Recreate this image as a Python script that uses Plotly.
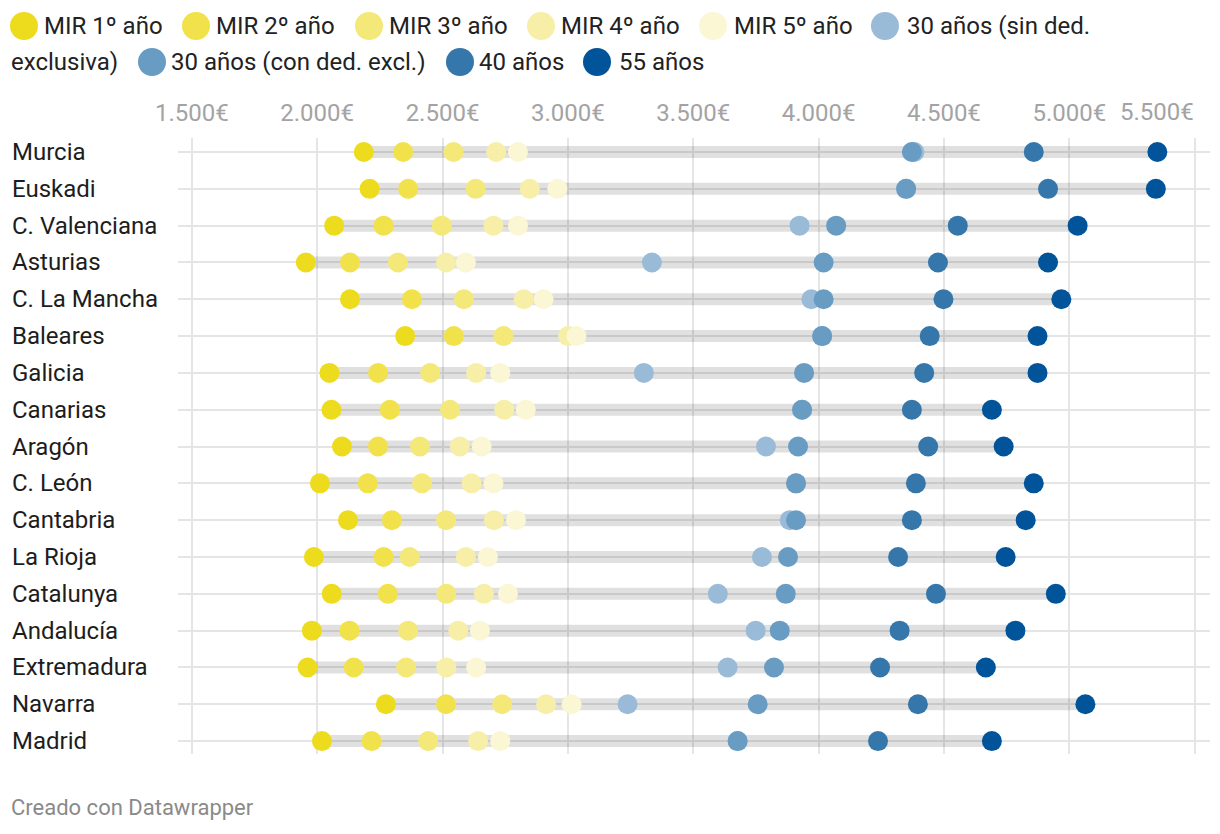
import plotly.graph_objects as go

# ---------------- data ----------------
regions = ["Murcia", "Euskadi", "C. Valenciana", "Asturias", "C. La Mancha", "Baleares",
           "Galicia", "Canarias", "Aragón", "C. León", "Cantabria", "La Rioja",
           "Catalunya", "Andalucía", "Extremadura", "Navarra", "Madrid"]

mir1 = [2186, 2209, 2068, 1955, 2131, 2351, 2049, 2057, 2099, 2011, 2123, 1987, 2058, 1979, 1962, 2274, 2019]
mir2 = [2343, 2363, 2265, 2131, 2378, 2545, 2243, 2290, 2243, 2202, 2298, 2265, 2282, 2129, 2146, 2514, 2217]
mir3 = [2544, 2632, 2497, 2322, 2585, 2743, 2451, 2530, 2410, 2418, 2514, 2369, 2515, 2363, 2355, 2738, 2443]
mir4 = [2714, 2848, 2703, 2514, 2824, 3001, 2634, 2746, 2569, 2616, 2705, 2593, 2665, 2563, 2515, 2913, 2642]
mir5 = [2801, 2958, 2801, 2593, 2903, 3034, 2730, 2832, 2656, 2703, 2793, 2681, 2761, 2649, 2634, 3015, 2730]
sin30 = [4382, 4349, 3924, 3335, 3971, 4014, 3303, 3934, 3790, 3910, 3885, 3774, 3598, 3749, 3637, 3238, 3677]
con30 = [4372, 4349, 4070, 4020, 4020, 4014, 3942, 3934, 3918, 3910, 3910, 3878, 3869, 3845, 3822, 3757, 3677]
a40 = [4858, 4915, 4555, 4476, 4498, 4443, 4421, 4372, 4437, 4388, 4372, 4317, 4468, 4323, 4245, 4396, 4237]
a55 = [5351, 5345, 5033, 4915, 4968, 4873, 4873, 4691, 4738, 4858, 4826, 4746, 4946, 4785, 4667, 5064, 4691]

series_names = ["MIR 1º año", "MIR 2º año", "MIR 3º año", "MIR 4º año", "MIR 5º año",
                "30 años (sin ded. exclusiva)", "30 años (con ded. excl.)", "40 años", "55 años"]
series_values = [mir1, mir2, mir3, mir4, mir5, sin30, con30, a40, a55]
series_colors = ["#eddb1d", "#f1e24b", "#f4e879", "#f7efa7", "#fbf6d3",
                 "#99bbd7", "#689cc2", "#3577aa", "#02549a"]

tick_vals = [1500, 2000, 2500, 3000, 3500, 4000, 4500, 5000, 5500]
tick_text = ["1.500€", "2.000€", "2.500€", "3.000€", "3.500€", "4.000€", "4.500€", "5.000€", "5.500€"]

# ---------------- geometry helpers ----------------
W, H = 1220, 834
ML, MR, MT, MB = 178, 10, 138, 80
PW, PH = W - ML - MR, H - MT - MB


def px(x):
    return (x - ML) / PW


def py(y):
    return (H - MB - y) / PH


FONT = "Roboto, 'Open Sans', sans-serif"
FS = 24

fig = go.Figure()

# range bars (min to max of each row)
bx, by = [], []
for i, r in enumerate(regions):
    vals = [s[i] for s in series_values]
    bx += [min(vals), max(vals), None]
    by += [r, r, None]
fig.add_trace(go.Scatter(x=bx, y=by, mode="lines",
                         line=dict(color="rgba(0,0,0,0.12)", width=12),
                         hoverinfo="skip", showlegend=False))

for name, vals, col in zip(series_names, series_values, series_colors):
    fig.add_trace(go.Scatter(x=vals, y=regions, mode="markers", name=name,
                             marker=dict(color=col, size=20, line=dict(width=0)),
                             showlegend=False))

annotations = []
shapes = []

# row labels (left aligned)
for r in regions:
    annotations.append(dict(x=0, xref="paper", xshift=-(ML - 10), y=r, yref="y",
                            text=r, showarrow=False, xanchor="left", yanchor="middle",
                            font=dict(family=FONT, size=FS, color="#1d1d1d")))

# last tick label is right-aligned to its gridline (as in the reference)
annotations.append(dict(x=tick_vals[-1], xref="x", xshift=1, y=py(112), yref="paper",
                        text=tick_text[-1], showarrow=False, xanchor="right",
                        yanchor="middle",
                        font=dict(family=FONT, size=FS, color="#a3a3a3")))
axis_ticktext = tick_text[:-1] + [""]

# custom legend (wrapped like reference)
legend_items = [
    # (circle_x, text_x, row_y, text)
    (24, 42, 26, series_names[0]),
    (196, 214, 26, series_names[1]),
    (369, 387, 26, series_names[2]),
    (541, 559, 26, series_names[3]),
    (713, 732, 26, series_names[4]),
    (885, 905, 26, "30 años (sin ded."),
    (152, 169, 62, series_names[6]),
    (460, 477, 62, series_names[7]),
    (597, 617, 62, series_names[8]),
]
for (cx, tx, ry, txt), col in zip(legend_items, series_colors):
    shapes.append(dict(type="circle", xref="paper", yref="paper",
                       xsizemode="pixel", ysizemode="pixel",
                       xanchor=px(cx), yanchor=py(ry),
                       x0=-14, x1=14, y0=-14, y1=14,
                       fillcolor=col, line=dict(width=0), layer="above"))
    annotations.append(dict(x=px(tx), y=py(ry), xref="paper", yref="paper", text=txt,
                            showarrow=False, xanchor="left", yanchor="middle",
                            font=dict(family=FONT, size=FS, color="#222222")))
annotations.append(dict(x=px(9), y=py(62), xref="paper", yref="paper", text="exclusiva)",
                        showarrow=False, xanchor="left", yanchor="middle",
                        font=dict(family=FONT, size=FS, color="#222222")))

# footer
annotations.append(dict(x=px(9), y=py(808), xref="paper", yref="paper",
                        text="Creado con Datawrapper", showarrow=False,
                        xanchor="left", yanchor="middle",
                        font=dict(family=FONT, size=22, color="#8a8a8a")))

fig.update_layout(
    width=W, height=H,
    margin=dict(l=ML, r=MR, t=MT, b=MB),
    plot_bgcolor="white", paper_bgcolor="white",
    showlegend=False,
    font=dict(family=FONT),
    xaxis=dict(range=[1445, 5561], side="top", tickmode="array",
               tickvals=tick_vals, ticktext=axis_ticktext,
               showgrid=True, gridcolor="#e5e5e5", gridwidth=2,
               zeroline=False, showline=False, ticks="",
               ticklabelstandoff=11,
               tickfont=dict(family=FONT, size=FS, color="#a3a3a3")),
    yaxis=dict(type="category", categoryarray=regions, categoryorder="array",
               range=[16.35, -0.38], showticklabels=False,
               showgrid=True, gridcolor="#e5e5e5", gridwidth=2,
               zeroline=False, showline=False, ticks=""),
    annotations=annotations,
    shapes=shapes,
    hovermode="closest",
)

fig.write_html("out.html", config={"displayModeBar": False},
               post_script="document.body.style.margin='0';")
